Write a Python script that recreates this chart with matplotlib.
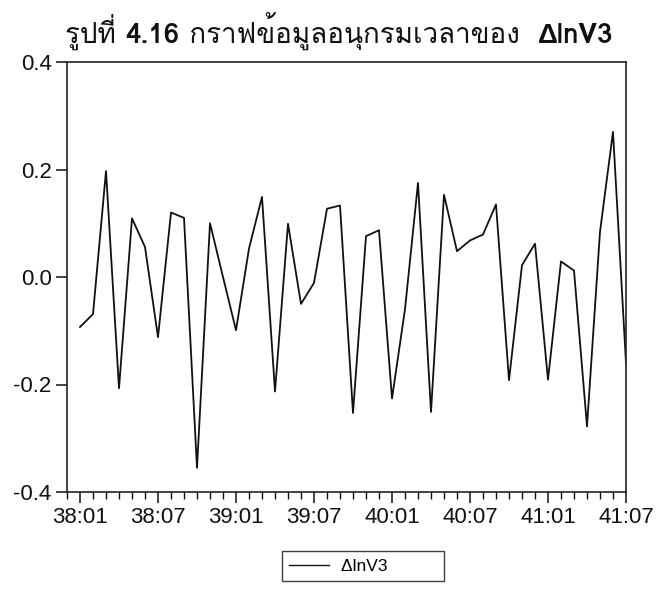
import matplotlib
matplotlib.use("Agg")
import matplotlib.pyplot as plt
from matplotlib import font_manager
from matplotlib.ft2font import FT2Font
from matplotlib.ticker import FixedLocator, MultipleLocator

# ---------------- data ----------------
periods = [f"{y}:{m:02d}" for y in (38, 39, 40, 41) for m in range(1, 13)][:43]
dlnv3 = [-0.093, -0.069, 0.197, -0.207, 0.109, 0.056, -0.112, 0.120, 0.110, -0.355,
         0.100, 0.000, -0.099, 0.053, 0.149, -0.213, 0.099, -0.050, -0.011, 0.127,
         0.133, -0.253, 0.076, 0.087, -0.226, -0.060, 0.175, -0.251, 0.153, 0.048,
         0.068, 0.079, 0.135, -0.192, 0.022, 0.062, -0.191, 0.029, 0.012, -0.278,
         0.084, 0.270, -0.160]
tick_labels = ["38:01", "38:07", "39:01", "39:07", "40:01", "40:07", "41:01", "41:07"]
y_ticks = [-0.4, -0.2, 0.0, 0.2, 0.4]
title_parts = [("รูปที่ ", "normal"), ("4.16", "bold"),
               (" กราฟข้อมูลอนุกรมเวลาของ  ", "normal"), ("ΔlnV3", "bold")]
series_name = "ΔlnV3"

# ---------------- find a Thai-capable font ----------------
def find_thai_font():
    preferred = ["Loma", "Garuda", "Noto Sans Thai", "Noto Sans Thai Looped", "Tlwg Typo",
                 "Kinnari", "Norasi", "Sawasdee", "Umpush", "Waree", "Laksaman"]
    found = {}
    for f in font_manager.fontManager.ttflist:
        try:
            cm = FT2Font(f.fname).get_charmap()
            if 0x0E23 in cm and 0x0E1B in cm:
                found.setdefault(f.name, f.fname)
        except Exception:
            pass
    for p in preferred:
        if p in found:
            return p
    if found:
        return sorted(found)[0]
    return None

thai = find_thai_font()
base = ["Liberation Sans", "DejaVu Sans"]
title_family = ([thai] if thai else []) + base
plt.rcParams["font.family"] = base

# ---------------- figure ----------------
W, H = 662, 590
fig = plt.figure(figsize=(W / 100, H / 100), dpi=100)
ax = fig.add_axes([67 / W, 1 - 492 / H, (626 - 67) / W, (492 - 62) / H])

x = list(range(len(dlnv3)))
ax.plot(x, dlnv3, color="#111111", lw=1.3, label=series_name + "\u00a0" * 10)

ax.set_xlim(-1, 42)
ax.set_ylim(-0.4, 0.4)
ax.set_yticks(y_ticks)
ax.set_yticklabels([f"{v:.1f}" for v in y_ticks])
ax.xaxis.set_major_locator(FixedLocator([periods.index(t) for t in tick_labels]))
ax.set_xticklabels(tick_labels)
ax.xaxis.set_minor_locator(MultipleLocator(1))

for s in ax.spines.values():
    s.set_linewidth(1.2)
    s.set_color("#222222")
ax.tick_params(axis="both", which="major", direction="out", length=8, width=1.1,
               labelsize=16, colors="#111111", pad=3)
ax.tick_params(axis="x", which="minor", direction="out", length=5, width=1.0, colors="#111111")
ax.tick_params(axis="y", which="minor", left=False)

# ---------------- title, built from pieces ----------------
fig.canvas.draw()
renderer = fig.canvas.get_renderer()
texts = []
xpos = 0.0
for s, w in title_parts:
    t = fig.text(xpos, 1 - 43 / H, s, ha="left", va="baseline", fontsize=20,
                 fontweight=w, family=title_family, color="#111111")
    bb = t.get_window_extent(renderer)
    texts.append(t)
    xpos += bb.width / W
total = xpos
start = 339.5 / W - total / 2
for t in texts:
    px, py = t.get_position()
    t.set_position((px + start, py))

leg = fig.legend(loc="center", bbox_to_anchor=(363 / W, 1 - 566 / H), frameon=True,
                 fancybox=False, edgecolor="#111111", fontsize=12.5, handlelength=2.3,
                 borderpad=0.4, handletextpad=0.7, borderaxespad=0)
leg.get_frame().set_linewidth(1.0)
for line in leg.get_lines():
    line.set_linewidth(1.0)

fig.savefig("out.png", dpi=100)
